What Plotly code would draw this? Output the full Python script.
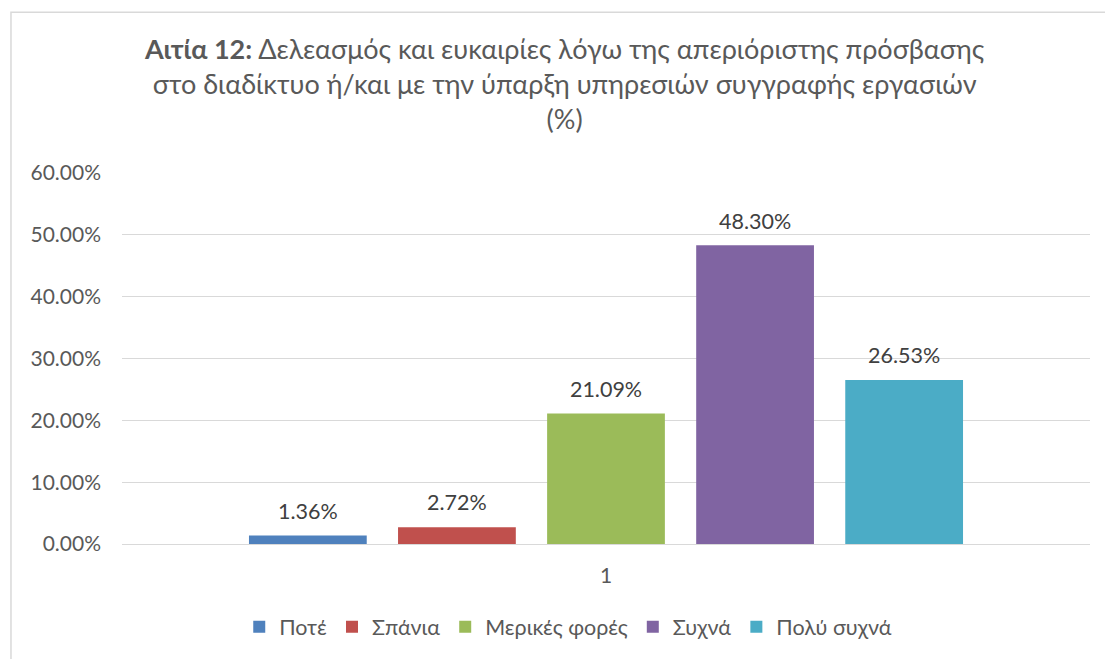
import plotly.graph_objects as go

# Survey answers for "Αιτία 12" (share of respondents)
categories = ["1"]
series_names = ["Ποτέ", "Σπάνια", "Μερικές φορές", "Συχνά", "Πολύ συχνά"]
series_values = [0.0136, 0.0272, 0.2109, 0.4830, 0.2653]
series_colors = ["#4F81BD", "#C0504D", "#9BBB59", "#8064A2", "#4BACC6"]
y_ticks = [0.0, 0.1, 0.2, 0.3, 0.4, 0.5, 0.6]

FONT = "Lato, Open Sans, sans-serif"
TEXT = "#595959"

fig = go.Figure()
for name, val, col in zip(series_names, series_values, series_colors):
    fig.add_trace(go.Bar(
        x=categories, y=[val], name=name,
        marker=dict(color=col, line=dict(width=0)),
        # value in a large span; the short second line keeps the label off the bar top
        texttemplate="<span style='font-size:21.5px'>%{y:.2%}</span><br> ",
        textposition="outside",
        textfont=dict(family=FONT, size=9, color="#404040"),
        cliponaxis=False,
    ))

fig.update_layout(
    width=1105, height=659,
    margin=dict(l=122, r=15, t=173, b=113),
    paper_bgcolor="white", plot_bgcolor="white",
    barmode="group", bargap=0.23, bargroupgap=0.21,
    font=dict(family=FONT, color=TEXT, size=21),
    title=dict(
        text="<b>Αιτία 12:</b> Δελεασμός και ευκαιρίες λόγω της απεριόριστης πρόσβασης<br>"
             "στο διαδίκτυο ή/και με την ύπαρξη υπηρεσιών συγγραφής εργασιών<br>(%)",
        x=0.511, xanchor="center", y=0.911, yanchor="top",
        font=dict(family=FONT, size=27, color=TEXT),
    ),
    showlegend=True,
    legend=dict(orientation="h", x=0.461, xanchor="center", y=-0.168, yanchor="top",
                font=dict(family=FONT, size=21.5, color=TEXT), traceorder="normal",
                itemwidth=30),
    xaxis=dict(type="category", showgrid=False, ticks="", showline=True,
               linecolor="#d9d9d9", linewidth=1, ticklabelstandoff=13,
               tickfont=dict(family=FONT, size=21, color=TEXT)),
    yaxis=dict(range=[0, 0.6], tickvals=y_ticks, tickformat=".2%",
               showgrid=True, gridcolor="#d9d9d9", gridwidth=1,
               zeroline=False, showline=False, ticks="",
               ticklabelstandoff=20,
               tickfont=dict(family=FONT, size=21, color=TEXT)),
    shapes=[dict(type="rect", xref="paper", yref="paper", x0=-0.1147, x1=1.2,
                 y0=-0.5, y1=1.433, line=dict(color="#d9d9d9", width=1.5),
                 fillcolor="rgba(0,0,0,0)", layer="below")],
)

fig.write_html("out.html")
